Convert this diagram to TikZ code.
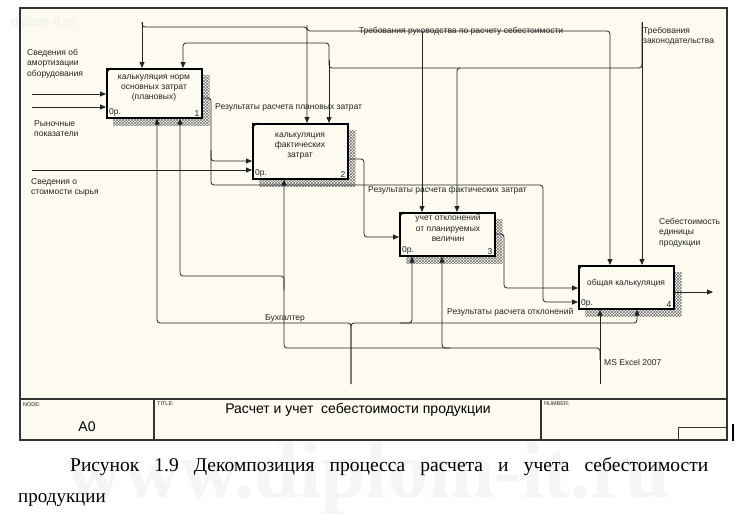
\documentclass[tikz,border=0pt]{standalone}
\usepackage{fontspec}
\setmainfont{Liberation Serif}
\newfontfamily\arial{Liberation Sans}
\usetikzlibrary{arrows.meta,patterns,calc,backgrounds}
\definecolor{paper}{RGB}{253,250,240}
\definecolor{ink}{RGB}{35,35,35}
\begin{document}
\begin{tikzpicture}[x=1pt,y=-1pt,
  arr/.style={draw=ink,line width=0.8pt,rounded corners=3pt,-{Triangle[length=6pt,width=5pt]}},
  proc/.style={draw=black,line width=1.6pt,fill=paper,minimum width=95pt,inner sep=0pt,anchor=north west},
  lbl/.style={font=\arial\fontsize{8.5}{10.5}\selectfont,inner sep=0pt,text=ink},
  btxt/.style={font=\arial\fontsize{8.5}{10.2}\selectfont,inner sep=0pt,align=center,text=ink},
  small/.style={font=\arial\fontsize{5.5}{6}\selectfont,inner sep=0pt,anchor=north west,text=ink},
  framec/.style={draw=black!80,line width=1.2pt}]
\useasboundingbox (0,0) rectangle (749,522);

% process boxes
\node[proc,minimum height=49pt] (b1) at (106,68) {};
\node[proc,minimum height=55pt] (b2) at (252,123) {};
\node[proc,minimum height=43pt] (b3) at (399,212) {};
\node[proc,minimum height=43pt] (b4) at (578,265) {};

\begin{scope}[on background layer]
  \fill[white] (0,0) rectangle (749,522);
  \fill[paper] (20,8) rectangle (727,440);
  \node[font=\arial\fontsize{13}{13}\selectfont,text=black!7,anchor=west,inner sep=0pt] (wm1) at (11,23) {diplom-it.ru};
  \node[font=\fontsize{80}{80}\selectfont\bfseries,text=black!4,inner sep=0pt] (wm2) at (368,478) {www.diplom-it.ru};
  \foreach \b in {b1,b2,b3,b4}
    \fill[pattern=crosshatch,pattern color=black!55] ($(\b.north west)+(7,7)$) rectangle ($(\b.south east)+(7,7)$);
\end{scope}

% frame and title block
\draw[framec] (20,8) rectangle (727,440);
\draw[framec] (20,399) -- (727,399);
\draw[framec] (154,399) -- (154,440);
\draw[framec] (541,399) -- (541,440);
\draw[draw=black!80,line width=1pt] (678,440) |- (727,427);
\draw[line width=2pt] (733,424) -- (733,441);

% box corner marks, texts and numbers
\foreach \b/\n in {b1/1,b2/2,b3/3,b4/4}{
  \draw[line width=1pt] ($(\b.north west)+(0,5)$) -- ($(\b.north west)+(5,0)$);
  \node[lbl,anchor=south west] (\b cost) at ($(\b.south west)+(3,-2)$) {0р.};
  \node[lbl,anchor=south east] (\b num) at ($(\b.south east)+(-3,-2)$) {\n};
}
\node[btxt] (t1) at (154,88) {калькуляция норм\\основных затрат\\(плановых)};
\node[btxt] (t2) at (300,146) {калькуляция\\фактических\\затрат};
\node[btxt] (t3) at (448,228) {учет отклонений\\от планируемых\\величин};
\node[btxt] (t4) at (626,283) {общая калькуляция};

% source coordinates
\coordinate (in1) at (32,94);
\coordinate (in2) at (32,107);
\coordinate (in3) at (32,170);
\coordinate (c1) at (142,22);
\coordinate (c2) at (642,22);
\coordinate (m1) at (351,384);
\coordinate (m2) at (600,384);
\coordinate (out) at (713,292);

% inputs
\draw[arr] (in1) -- (in1 -| b1.west);
\draw[arr] (in2) -- (in2 -| b1.west);
\draw[arr] (in3) -- (in3 -| b2.west);

% outputs between boxes
\draw[arr] (b1.east |- 0,98) -| (211,161) -- (b2.west |- 0,161);
\draw[arr] (211,150) |- (543,185) |- (b4.west |- 0,302);
\draw[arr] (b2.east |- 0,159) -| (364,237) -- (b3.west |- 0,237);
\draw[arr] (b3.east |- 0,234) -| (504,288) -- (b4.west |- 0,288);
\draw[arr] (b4.east |- out) -- (out);

% controls
\draw[arr] (c1) -- (c1 |- b1.north);
\draw[arr] (c1) |- (307,27) -- (b2.north -| 307,0);
\draw[arr] (307,25) |- (610,31) -- (b4.north -| 610,0);
\draw[arr] (422,31) -- (b3.north -| 422,0);
\draw[arr] (c2) -- (c2 |- b4.north);
\draw[arr] (c2) |- (457,68) -- (b3.north -| 457,0);
\draw[arr] (460,68) -| (329,43) -| (b1.north -| 183,0);
\draw[arr] (329,60) -- (b2.north -| 329,0);

% mechanisms
\draw[arr] (m1) |- (157,323) -- (b1.south -| 157,0);
\draw[arr] (m1) |- (412,323) -- (b3.south -| 412,0);
\draw[arr] (400,323) -| (b4.south -| 637,0);
\draw[arr] (m2) -- (m2 |- b4.south);
\draw[arr] (600,360) |- (442,348) -- (b3.south -| 442,0);
\draw[arr] (450,348) -| (b2.south -| 284,0);
\draw[arr] (284,290) |- (180,276) -- (b1.south -| 180,0);

% arrow labels
\node[lbl,anchor=north west,align=left] (l1) at (27,49) {Сведения об\\амортизации\\оборудования};
\node[lbl,anchor=north west,align=left] (l2) at (34,120) {Рыночные\\показатели};
\node[lbl,anchor=north west,align=left] (l3) at (31,178) {Сведения о\\стоимости сырья};
\node[lbl,anchor=west] (l4) at (215,107) {Результаты расчета плановых затрат};
\node[lbl] (l5) at (461,31.5) {Требования руководства по расчету себестоимости};
\node[lbl,anchor=north west,align=left] (l6) at (643,27) {Требования\\законодательства};
\node[lbl,anchor=west] (l7) at (368,190) {Результаты расчета фактических затрат};
\node[lbl] (l8) at (285,318) {Бухгалтер};
\node[lbl,anchor=west] (l9) at (447,312) {Результаты расчета отклонений};
\node[lbl,anchor=west] (l10) at (604,362) {MS Excel 2007};
\node[lbl,anchor=north west,align=left] (l11) at (659,218) {Себестоимость\\единицы\\продукции};

% title block texts
\node[small] (tn) at (23,402) {NODE:};
\node[font=\arial\fontsize{14}{14}\selectfont,inner sep=0pt] (ta) at (87,427) {A0};
\node[small] (tt) at (157,402) {TITLE:};
\node[font=\arial\fontsize{14}{14}\selectfont,inner sep=0pt] (tname) at (358,410) {Расчет и учет\ \ себестоимости продукции};
\node[small] (tnm) at (544,402) {NUMBER:};

% caption
\node[anchor=west,inner sep=0pt,font=\fontsize{19.5}{19.5}\selectfont] (cap1) at (70,467) {\makebox[638pt][s]{Рисунок 1.9 Декомпозиция процесса расчета и учета себестоимости}};
\node[anchor=west,inner sep=0pt,font=\fontsize{19}{19}\selectfont] (cap2) at (18,500) {продукции};
\end{tikzpicture}
\end{document}
